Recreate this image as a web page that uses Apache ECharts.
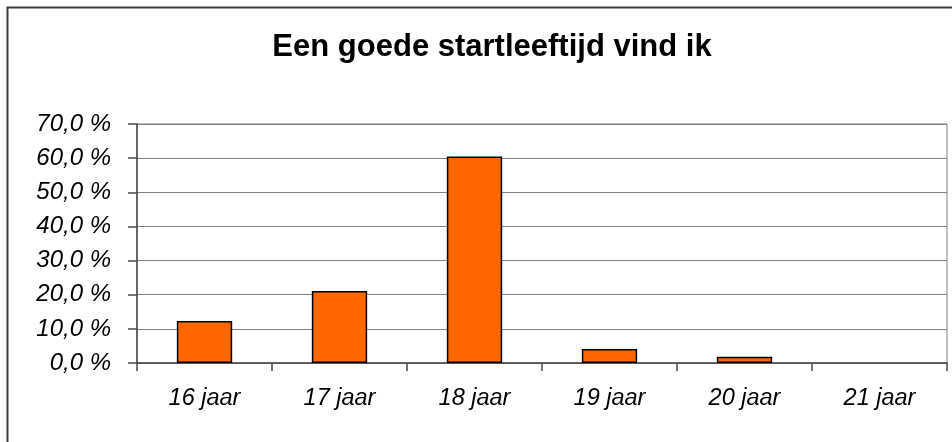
<!DOCTYPE html>
<html>
<head>
<meta charset="utf-8">
<script src="https://cdn.jsdelivr.net/npm/echarts@6/dist/echarts.min.js"></script>
<style>
  html, body { margin: 0; padding: 0; background: #ffffff; }
  #chart { width: 952px; height: 442px; }
</style>
</head>
<body>
<div id="chart"></div>
<script>
// Survey answers: preferred starting age (percentage of respondents)
const titleText = 'Een goede startleeftijd vind ik';
const categories = ['16 jaar', '17 jaar', '18 jaar', '19 jaar', '20 jaar', '21 jaar'];
const percentages = [12.3, 21.1, 60.5, 4.1, 1.8, 0];
const yMin = 0;
const yMax = 70;
const yStep = 10;

const fontFamily = '"Liberation Sans", Arial, sans-serif';

const chart = echarts.init(document.getElementById('chart'), null, { renderer: 'canvas' });

// Empty bars get no outline so a zero value draws nothing
const barData = percentages.map(v => ({
  value: v,
  itemStyle: v === 0 ? { borderWidth: 0, opacity: 0 } : {}
}));

chart.setOption({
  animation: false,
  backgroundColor: '#ffffff',
  title: {
    text: titleText,
    left: 487,
    top: 27,
    textAlign: 'center',
    textStyle: {
      fontFamily: fontFamily,
      fontSize: 31,
      fontWeight: 'bold',
      color: '#000000'
    }
  },
  graphic: [{
    type: 'rect',
    shape: { x: 7.5, y: 7.5, width: 1200, height: 800 },
    style: { fill: 'none', stroke: '#3a3a3a', lineWidth: 2 },
    silent: true,
    z: 100
  }],
  grid: {
    left: 137,
    right: 5,
    top: 124,
    bottom: 79,
    show: true,
    borderColor: '#808080',
    borderWidth: 1,
    containLabel: false
  },
  xAxis: {
    type: 'category',
    data: categories,
    axisLine: { lineStyle: { color: '#4a4a4a', width: 1.5 } },
    axisTick: { show: true, length: 8, alignWithLabel: false, lineStyle: { color: '#4a4a4a', width: 1.5 } },
    axisLabel: {
      margin: 24,
      fontFamily: fontFamily,
      fontSize: 23.5,
      fontStyle: 'italic',
      color: '#000000'
    },
    splitLine: { show: false }
  },
  yAxis: {
    type: 'value',
    min: yMin,
    max: yMax,
    interval: yStep,
    axisLine: { show: true, lineStyle: { color: '#4a4a4a', width: 1.5 } },
    axisTick: { show: true, length: 9, lineStyle: { color: '#4a4a4a', width: 1.5 } },
    axisLabel: {
      margin: 26,
      fontFamily: fontFamily,
      fontSize: 24,
      fontStyle: 'italic',
      color: '#000000',
      formatter: v => v.toFixed(1).replace('.', ',') + ' %'
    },
    splitLine: { show: true, lineStyle: { color: '#808080', width: 1.2 } }
  },
  series: [{
    type: 'bar',
    data: barData,
    barWidth: '41%',
    itemStyle: {
      color: '#FF6600',
      borderColor: '#000000',
      borderWidth: 1.5
    }
  }]
});
</script>
</body>
</html>
